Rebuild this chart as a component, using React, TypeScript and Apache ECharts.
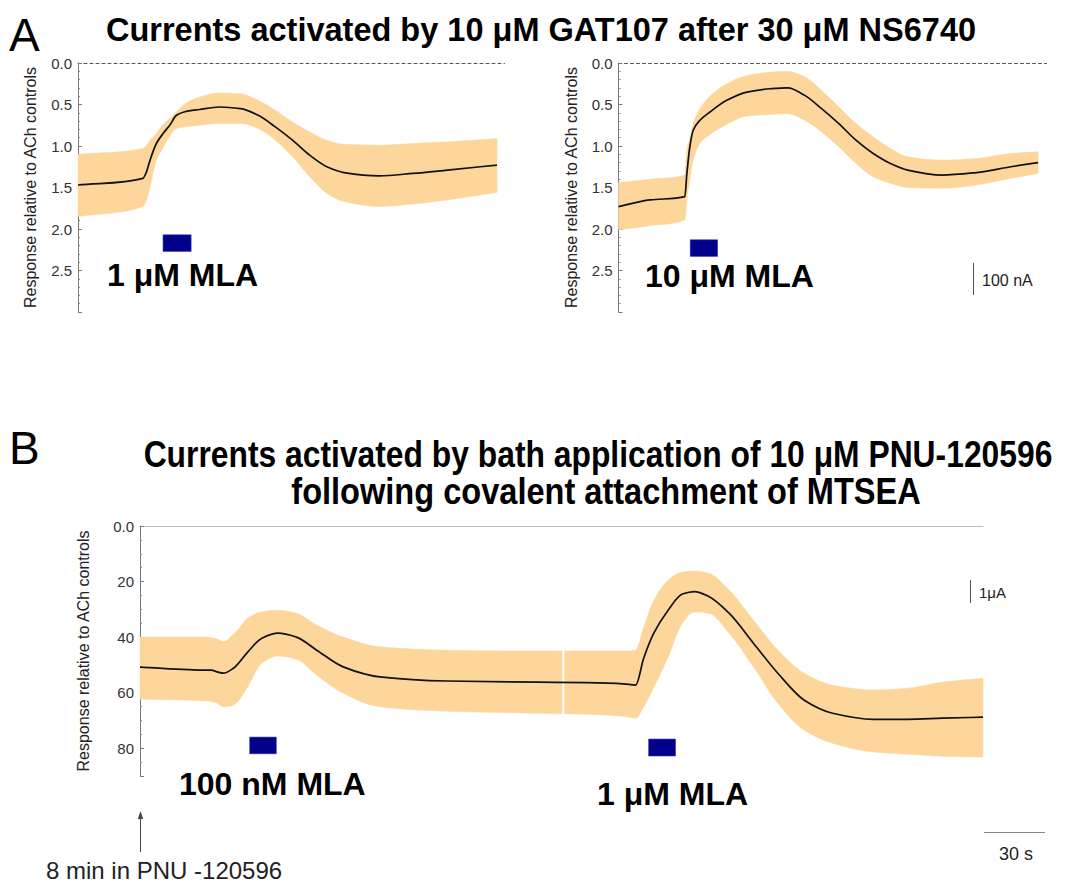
import React, { useEffect, useRef } from 'react';
import * as echarts from 'echarts';

// ---------- Panel A (left): 1 µM MLA ----------
const A1_TIME = [0, 15.5, 16.2, 17.2, 18.7, 20.3, 21.9, 23.5, 25.3, 29, 33.8, 38.8, 43, 47.1, 51.2, 55.3, 59.4, 63.5, 71.8, 80, 88.2, 100];
const A1_MEAN = [1.47, 1.39, 1.33, 1.17, 0.97, 0.85, 0.75, 0.63, 0.59, 0.56, 0.53, 0.55, 0.63, 0.77, 0.93, 1.11, 1.25, 1.32, 1.36, 1.33, 1.29, 1.23];
const A1_BAND_TOP = [1.10, 1.03, 1.0, 0.93, 0.85, 0.74, 0.67, 0.59, 0.50, 0.41, 0.36, 0.37, 0.45, 0.57, 0.71, 0.83, 0.93, 0.98, 0.99, 0.97, 0.95, 0.91];
const A1_BAND_BOTTOM = [1.85, 1.73, 1.67, 1.50, 1.17, 1.02, 0.88, 0.79, 0.77, 0.75, 0.73, 0.73, 0.79, 0.93, 1.13, 1.37, 1.57, 1.67, 1.73, 1.70, 1.65, 1.56];
const A1_MLA = [20.3, 27.0, 2.07, 2.27]; // t start, t end, y top, y bottom

// ---------- Panel A (right): 10 µM MLA ----------
const A2_TIME = [0, 7.5, 15.8, 16.3, 17, 17.8, 19.4, 21.8, 25.8, 30.6, 36.2, 40.3, 44.4, 48.4, 52.5, 56.6, 60.7, 64.8, 68.9, 77.1, 85.3, 93.5, 100];
const A2_MEAN = [1.73, 1.65, 1.61, 1.33, 1.01, 0.81, 0.69, 0.59, 0.45, 0.35, 0.31, 0.30, 0.39, 0.55, 0.73, 0.93, 1.09, 1.21, 1.29, 1.35, 1.32, 1.25, 1.20];
const A2_BAND_TOP = [1.44, 1.40, 1.35, 1.05, 0.90, 0.73, 0.55, 0.40, 0.25, 0.15, 0.11, 0.10, 0.17, 0.33, 0.53, 0.73, 0.89, 1.03, 1.13, 1.17, 1.15, 1.09, 1.07];
const A2_BAND_BOTTOM = [2.01, 1.96, 1.89, 1.65, 1.40, 1.17, 0.97, 0.86, 0.74, 0.64, 0.62, 0.61, 0.69, 0.83, 1.01, 1.21, 1.37, 1.45, 1.50, 1.51, 1.47, 1.39, 1.33];
const A2_MLA = [17.1, 23.6, 2.13, 2.33];

// ---------- Panel B: PNU-120596 after MTSEA ----------
const B_TIME = [0, 33, 35, 38, 41, 46, 48, 53, 60, 68, 77, 87, 100, 118, 151, 196, 220, 238, 244, 248, 253, 260, 267, 273, 280, 290, 302, 314, 327, 341, 361, 378, 395, 415];
const B_MEAN = [50.8, 51.9, 51.9, 52.5, 53.0, 51.2, 49.8, 45.4, 40.4, 38.6, 40.0, 44.7, 50.7, 54.3, 55.8, 56.2, 56.4, 56.8, 57.3, 47.5, 38.5, 30.3, 24.5, 23.6, 25.4, 31.4, 42.2, 53.0, 62.7, 67.4, 69.6, 69.6, 69.2, 68.8];
const B_BAND_TOP = [40, 40, 40.2, 40.7, 41.6, 39, 37.5, 33.2, 30.9, 30.3, 31.4, 35.7, 40, 43.5, 44.7, 45, 45, 45, 44.7, 36.4, 26.7, 19.5, 16.6, 16.2, 17, 23, 33.9, 44.7, 53, 57.3, 59, 58.4, 56.2, 54.8];
const B_BAND_BOTTOM = [62.3, 63, 63.2, 63.8, 65.1, 64.5, 63.4, 57.9, 49.4, 46.8, 48, 53.7, 60.2, 65.1, 66.7, 67.4, 67.8, 68.5, 69.2, 65.1, 58, 47.2, 35, 31, 31.4, 38.6, 50.7, 63.8, 73.5, 78.2, 81.4, 82.2, 82.9, 83.2];
const B_MLA_1 = [54, 67.1, 76, 82];
const B_MLA_2 = [250.4, 263.6, 76.7, 82.8];
const B_GAP = [208.4, 44.5, 68]; // t, from, to

const A_TICKS = [0, 0.5, 1.0, 1.5, 2.0, 2.5];
const B_TICKS = [0, 20, 40, 60, 80];

const FONT = "'Liberation Sans', Arial, Helvetica, sans-serif";
const BAND = '#FDD69B';
const MLA_COLOR = '#00008B';
const Y_NAME = 'Response relative to ACh controls';

// monotone cubic (Fritsch–Carlson) segments through pixel points sorted by x
function segments(p: number[][]) {
  const n = p.length;
  const dx: number[] = [], d: number[] = [];
  for (let i = 0; i < n - 1; i++) {
    dx.push(p[i + 1][0] - p[i][0]);
    d.push((p[i + 1][1] - p[i][1]) / (dx[i] || 1e-9));
  }
  const m: number[] = new Array(n).fill(0);
  m[0] = d[0];
  m[n - 1] = d[n - 2];
  for (let i = 1; i < n - 1; i++) {
    if (d[i - 1] * d[i] <= 0) m[i] = 0;
    else m[i] = (3 * (dx[i - 1] + dx[i])) / ((2 * dx[i] + dx[i - 1]) / d[i - 1] + (dx[i] + 2 * dx[i - 1]) / d[i]);
  }
  const segs: number[][] = [];
  for (let i = 0; i < n - 1; i++) {
    const h = dx[i] / 3;
    segs.push([p[i][0] + h, p[i][1] + m[i] * h, p[i + 1][0] - h, p[i + 1][1] - m[i + 1] * h]);
  }
  return segs;
}
function forwardPath(p: number[][]) {
  const s = segments(p);
  let out = '';
  for (let i = 0; i < s.length; i++) {
    out += ` C${s[i][0]},${s[i][1]} ${s[i][2]},${s[i][3]} ${p[i + 1][0]},${p[i + 1][1]}`;
  }
  return out;
}
function backwardPath(p: number[][]) {
  const s = segments(p);
  let out = '';
  for (let i = s.length - 1; i >= 0; i--) {
    out += ` C${s[i][2]},${s[i][3]} ${s[i][0]},${s[i][1]} ${p[i][0]},${p[i][1]}`;
  }
  return out;
}

function panelSeries(idx: number, t: number[], mean: number[], top: number[], bottom: number[], mla: number[][], gap?: number[]) {
  return {
    type: 'custom',
    xAxisIndex: idx,
    yAxisIndex: idx,
    silent: true,
    clip: false,
    data: [[t[0], mean[0]]],
    renderItem: (_params: any, api: any) => {
      const topPts = t.map((x, i) => api.coord([x, top[i]]));
      const botPts = t.map((x, i) => api.coord([x, bottom[i]]));
      const meanPts = t.map((x, i) => api.coord([x, mean[i]]));
      const n = t.length;
      const bandPath =
        `M${topPts[0][0]},${topPts[0][1]}` + forwardPath(topPts) +
        ` L${botPts[n - 1][0]},${botPts[n - 1][1]}` + backwardPath(botPts) + ' Z';
      const meanPath = `M${meanPts[0][0]},${meanPts[0][1]}` + forwardPath(meanPts);
      const children: any[] = [
        { type: 'path', shape: { pathData: bandPath }, style: { fill: BAND, stroke: BAND, lineWidth: 0.5 } },
      ];
      if (gap) {
        const a = api.coord([gap[0], gap[1]]);
        const b = api.coord([gap[0], gap[2]]);
        children.push({ type: 'line', shape: { x1: a[0], y1: a[1], x2: b[0], y2: b[1] }, style: { stroke: '#ffffff', lineWidth: 2 } });
      }
      children.push({ type: 'path', shape: { pathData: meanPath }, style: { fill: 'none', stroke: '#111', lineWidth: 1.7 } });
      mla.forEach((m) => {
        const p0 = api.coord([m[0], m[2]]);
        const p1 = api.coord([m[1], m[3]]);
        children.push({
          type: 'rect',
          shape: { x: p0[0], y: p0[1], width: p1[0] - p0[0], height: p1[1] - p0[1] },
          style: { fill: MLA_COLOR, stroke: '#2b2bb0', lineWidth: 0.6 },
        });
      });
      return { type: 'group', children };
    },
  };
}

function yAxisFor(idx: number, isB: boolean, nameGap: number) {
  return {
    gridIndex: idx,
    type: 'value',
    inverse: true,
    min: 0,
    max: isB ? 90 : 3,
    interval: isB ? 20 : 0.5,
    name: Y_NAME,
    nameLocation: 'middle',
    nameRotate: 90,
    nameGap,
    nameTextStyle: { fontSize: 16, color: '#222', fontFamily: FONT },
    axisLine: { show: true, onZero: false, lineStyle: { color: '#7a7a7a', width: 1 } },
    axisTick: { show: true, inside: true, length: 4, lineStyle: { color: '#7a7a7a' } },
    minorTick: { show: true, splitNumber: isB ? 4 : 5, length: 2, lineStyle: { color: '#8a8a8a' } },
    splitLine: { show: false },
    axisLabel: {
      fontSize: 15, color: '#333', fontFamily: FONT, margin: 6,
      formatter: (v: number) => {
        const ticks = isB ? B_TICKS : A_TICKS;
        if (!ticks.some((x) => Math.abs(x - v) < 1e-9)) return '';
        if (isB) return v === 0 ? '0.0' : String(v);
        return v.toFixed(1);
      },
    },
  };
}

function xAxisFor(idx: number, max: number, dashed: boolean) {
  return {
    gridIndex: idx,
    type: 'value',
    min: 0,
    max,
    position: 'top',
    axisLine: {
      show: true, onZero: false,
      lineStyle: dashed ? { color: '#555', width: 1, type: [3, 3] } : { color: '#bdbdbd', width: 1.2, type: 'solid' },
    },
    axisTick: { show: false },
    axisLabel: { show: false },
    splitLine: { show: false },
  };
}

function txt(text: string, x: number, y: number, size: number, opts: any = {}) {
  return {
    type: 'text', x, y, silent: true, z: 100,
    scaleX: opts.scaleX ?? 1,
    style: {
      text, fill: opts.fill ?? '#000', fontSize: size, fontFamily: FONT,
      fontWeight: opts.bold ? 'bold' : 'normal',
      align: opts.align ?? 'left', verticalAlign: 'middle',
    },
  };
}
function ln(x1: number, y1: number, x2: number, y2: number, stroke: string, w = 1) {
  return { type: 'line', silent: true, z: 100, shape: { x1, y1, x2, y2 }, style: { stroke, lineWidth: w } };
}

export default function App() {
  const ref = useRef<HTMLDivElement>(null);
  useEffect(() => {
    document.body.style.margin = '0';
    const chart = echarts.init(ref.current!, null, { renderer: 'svg' });
    const option: any = {
      animation: false,
      backgroundColor: '#fff',
      grid: [
        { left: 78, top: 63, width: 426.5, height: 249 },
        { left: 618.5, top: 63, width: 428, height: 249 },
        { left: 140, top: 526, width: 843, height: 250 },
      ],
      xAxis: [xAxisFor(0, 101.8, true), xAxisFor(1, 102, true), xAxisFor(2, 415, false)],
      yAxis: [yAxisFor(0, false, 40), yAxisFor(1, false, 39), yAxisFor(2, true, 49)],
      series: [
        panelSeries(0, A1_TIME, A1_MEAN, A1_BAND_TOP, A1_BAND_BOTTOM, [A1_MLA]),
        panelSeries(1, A2_TIME, A2_MEAN, A2_BAND_TOP, A2_BAND_BOTTOM, [A2_MLA]),
        panelSeries(2, B_TIME, B_MEAN, B_BAND_TOP, B_BAND_BOTTOM, [B_MLA_1, B_MLA_2], B_GAP),
      ],
      graphic: {
        elements: [
          txt('A', 9, 35, 46),
          txt('Currents activated by 10 μM GAT107 after 30 μM NS6740', 541, 30, 32.5, { bold: true, align: 'center' }),
          txt('1 μM MLA', 107, 275, 32, { bold: true }),
          txt('10 μM MLA', 645, 276, 32, { bold: true }),
          ln(973.5, 263, 973.5, 295, '#555', 1),
          txt('100 nA', 982, 280, 16, { fill: '#222' }),
          txt('B', 9, 448, 46),
          txt('Currents activated by bath application of 10 μM PNU-120596', 598, 454, 37, { bold: true, align: 'center', scaleX: 0.86 }),
          txt('following covalent attachment of MTSEA', 606, 491, 37, { bold: true, align: 'center', scaleX: 0.88 }),
          txt('100 nM MLA', 179, 784, 32, { bold: true }),
          txt('1 μM MLA', 597, 794, 32, { bold: true }),
          ln(970.5, 580, 970.5, 603, '#555', 1),
          txt('1μA', 979, 592, 15, { fill: '#222' }),
          ln(984, 832.5, 1045, 832.5, '#888', 1),
          txt('30 s', 1016, 854, 18, { fill: '#222', align: 'center' }),
          ln(140.5, 852, 140.5, 816, '#444', 1),
          { type: 'polygon', silent: true, z: 100, shape: { points: [[140.5, 811], [137.8, 819], [143.2, 819]] }, style: { fill: '#444' } },
          txt('8 min in PNU -120596', 46, 870, 24, { fill: '#222' }),
        ],
      },
    };
    chart.setOption(option);
    return () => chart.dispose();
  }, []);
  return <div ref={ref} style={{ position: 'absolute', left: 0, top: 0, width: 1068, height: 882, background: '#fff' }} />;
}
